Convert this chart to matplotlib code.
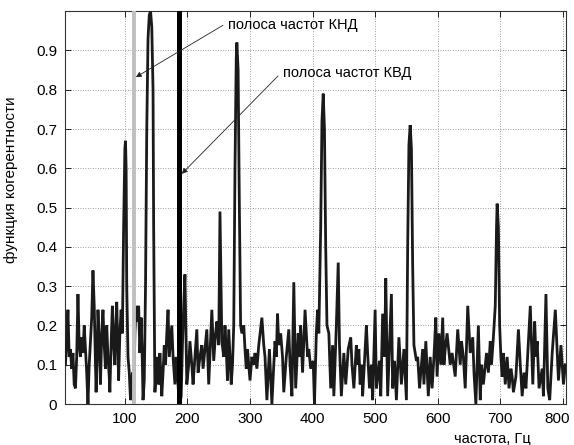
import numpy as np
import matplotlib
matplotlib.use("Agg")
import matplotlib.pyplot as plt
import matplotlib.transforms as mtransforms

plt.rcParams['font.family'] = ['Liberation Sans', 'DejaVu Sans']

# ---- data ----
freq_a = [5, 7, 9, 11, 13, 15, 17, 19, 21, 23, 25, 27, 29, 31, 33, 35, 37, 39, 41, 43,
          45, 47, 49, 51, 53, 54, 56, 57, 59, 61, 63, 65, 67, 69, 71, 73, 75, 76, 78, 80,
          82, 84, 85, 87, 89, 90, 92, 94, 96, 98, 100, 101, 102, 103, 105, 107, 109, 111, 112, 114,
          116, 118, 120, 122, 124, 126, 128, 129, 131, 133, 135, 137, 139, 141, 143, 145, 146, 148, 150, 152,
          154, 156, 159, 161, 163, 165, 167, 169, 171, 173, 175, 177, 180, 182, 184, 186, 188, 190, 192, 194,
          196, 199, 202, 204, 207, 209, 212, 215, 217, 220, 223, 225, 228, 231]
coh_a = [0.10, 0.16, 0.24, 0.12, 0.14, 0.09, 0.13, 0.05, 0.04, 0.12, 0.28, 0.15, 0.12, 0.17, 0.13, 0.20, 0.14, 0.08, 0.00, 0.10,
         0.16, 0.22, 0.34, 0.25, 0.10, 0.03, 0.15, 0.24, 0.16, 0.05, 0.18, 0.24, 0.15, 0.09, 0.20, 0.12, 0.07, 0.03, 0.15, 0.25,
         0.15, 0.10, 0.18, 0.26, 0.12, 0.06, 0.18, 0.24, 0.18, 0.45, 0.65, 0.67, 0.60, 0.30, 0.12, 0.08, 0.01, 0.05, 0.08, 0.00,
         0.18, 0.25, 0.21, 0.25, 0.13, 0.22, 0.10, 0.01, 0.06, 0.30, 0.70, 0.93, 0.99, 1.00, 0.96, 0.80, 0.45, 0.03, 0.08, 0.12,
         0.05, 0.13, 0.02, 0.08, 0.15, 0.10, 0.18, 0.24, 0.12, 0.16, 0.20, 0.12, 0.05, 0.12, 0.08, 0.02, 0.00, 0.02, 0.15, 0.25,
         0.33, 0.05, 0.10, 0.16, 0.10, 0.05, 0.12, 0.19, 0.08, 0.12, 0.15, 0.09, 0.14, 0.19]

freq_b = [234, 239, 242, 245, 247, 250, 252, 255, 258, 260, 262, 264, 266, 268, 270, 272, 274, 276, 278, 279,
          281, 283, 285, 287, 290, 292, 294, 296, 298, 300, 303, 306, 308, 311, 314, 319, 322, 324, 327, 331,
          335, 338, 340, 342, 344, 346, 349, 352, 354, 358, 362, 364, 367, 370, 373, 377, 379, 381, 384, 388,
          392, 394, 397, 401, 403, 406, 408, 410, 413, 415, 417, 419, 421, 423, 426, 429, 432, 434, 438, 441,
          443, 446, 450, 453, 457, 461]
coh_b = [0.05, 0.24, 0.11, 0.18, 0.21, 0.15, 0.49, 0.16, 0.12, 0.20, 0.14, 0.06, 0.19, 0.12, 0.05, 0.10, 0.20, 0.60, 0.88, 0.92,
         0.85, 0.50, 0.20, 0.18, 0.20, 0.14, 0.09, 0.14, 0.10, 0.06, 0.12, 0.10, 0.13, 0.09, 0.15, 0.22, 0.15, 0.12, 0.01, 0.14,
         0.00, 0.10, 0.16, 0.12, 0.23, 0.15, 0.18, 0.12, 0.03, 0.12, 0.19, 0.10, 0.02, 0.31, 0.04, 0.18, 0.12, 0.20, 0.08, 0.24,
         0.12, 0.14, 0.09, 0.11, 0.00, 0.18, 0.24, 0.18, 0.45, 0.72, 0.79, 0.70, 0.40, 0.20, 0.18, 0.04, 0.15, 0.02, 0.20, 0.36,
         0.15, 0.02, 0.13, 0.05, 0.14, 0.17]

freq_c = [463, 466, 470, 471, 474, 476, 479, 480, 486, 488, 491, 494, 496, 500, 502, 505, 507, 509, 512, 515,
          517, 520, 523, 526, 528, 531, 534, 538, 542, 546, 550, 552, 554, 556, 558, 560, 562, 566, 568, 571,
          574, 576, 578, 581, 585, 588, 591, 594, 597, 599, 602, 605, 608, 610, 612, 615, 620, 623, 628, 632,
          636, 638, 641, 644, 648, 652, 656, 658, 661, 665, 668, 670, 673, 678, 681, 684, 686, 689, 692, 694,
          695, 697, 699, 701, 703, 705, 708, 711, 714, 717, 719, 721, 725, 729, 732, 735, 738, 741, 743, 748,
          752, 755, 757, 759, 762, 767, 769, 773, 776, 779, 783, 788, 793, 797, 801, 804]
coh_c = [0.10, 0.04, 0.15, 0.10, 0.14, 0.05, 0.10, 0.02, 0.20, 0.13, 0.04, 0.10, 0.01, 0.24, 0.04, 0.08, 0.11, 0.02, 0.23, 0.12,
         0.32, 0.02, 0.15, 0.28, 0.04, 0.11, 0.01, 0.17, 0.05, 0.14, 0.01, 0.40, 0.66, 0.71, 0.65, 0.35, 0.15, 0.11, 0.12, 0.04,
         0.10, 0.14, 0.05, 0.16, 0.02, 0.12, 0.04, 0.12, 0.22, 0.07, 0.18, 0.10, 0.22, 0.10, 0.14, 0.18, 0.10, 0.13, 0.07, 0.19,
         0.10, 0.16, 0.12, 0.04, 0.25, 0.13, 0.17, 0.08, 0.00, 0.20, 0.01, 0.10, 0.05, 0.13, 0.08, 0.16, 0.10, 0.17, 0.25, 0.45,
         0.51, 0.45, 0.20, 0.12, 0.07, 0.13, 0.05, 0.12, 0.04, 0.09, 0.07, 0.03, 0.07, 0.19, 0.10, 0.02, 0.08, 0.04, 0.10, 0.25,
         0.05, 0.21, 0.12, 0.16, 0.04, 0.09, 0.02, 0.28, 0.04, 0.01, 0.13, 0.24, 0.06, 0.15, 0.05, 0.10]

band_knd = 114   # полоса частот КНД
band_kvd = 187   # полоса частот КВД

xticks = [100, 200, 300, 400, 500, 600, 700, 800]
yticks = [0, 0.1, 0.2, 0.3, 0.4, 0.5, 0.6, 0.7, 0.8, 0.9]
ytick_labels = ['0', '0.1', '0.2', '0.3', '0.4', '0.5', '0.6', '0.7', '0.8', '0.9']

label_knd = 'полоса частот КНД'
label_kvd = 'полоса частот КВД'
xlabel = 'частота, Гц'
ylabel = 'функция когерентности'

freq = np.array(freq_a + freq_b + freq_c, dtype=float)
coh = np.array(coh_a + coh_b + coh_c, dtype=float)

# ---- figure ----
fig = plt.figure(figsize=(5.74, 4.45), dpi=100)
ax = fig.add_axes([0.114, 0.092, 0.872, 0.883])

ax.plot(freq, coh, color='#1a1a1a', lw=2.0, zorder=3, solid_joinstyle='miter')
ax.axvline(band_knd, color='#c0c0c0', lw=2.8, zorder=4)
ax.axvline(band_kvd, color='black', lw=3.6, zorder=4)

ax.set_xlim(5, 805)
ax.set_ylim(0, 1.0)
ax.set_xticks(xticks)
ax.set_yticks(yticks)
ax.set_yticklabels(ytick_labels)

ax.grid(True, color='#808080', linestyle=(0, (1, 2)), lw=0.6)
ax.set_axisbelow(True)
ax.tick_params(direction='in', length=4, width=0.6, top=True, right=True,
               labelsize=11, pad=6, colors='black')
for s in ax.spines.values():
    s.set_linewidth(0.8)
    s.set_color('#333333')

# shift the last x tick label slightly left so it stays inside the figure
fig.canvas.draw()
last = ax.get_xticklabels()[-1]
last.set_transform(last.get_transform() +
                   mtransforms.ScaledTranslation(-6 / 100, 0, fig.dpi_scale_trans))

ax.set_ylabel(ylabel, fontsize=11)
ax.yaxis.set_label_coords(-0.095, 0.57)
ax.set_xlabel(xlabel, fontsize=10.5)
ax.xaxis.set_label_coords(0.852, -0.072)

# annotations
ax.annotate('', xy=(117.6, 0.832), xytext=(256.8, 0.964),
            arrowprops=dict(arrowstyle='-|>', lw=0.6, color='#222222',
                            mutation_scale=8, shrinkA=0, shrinkB=0), zorder=6)
ax.text(265, 0.964, label_knd, fontsize=10.5, va='center', ha='left', zorder=6)
ax.annotate('', xy=(191, 0.586), xytext=(344.8, 0.835),
            arrowprops=dict(arrowstyle='-|>', lw=0.6, color='#222222',
                            mutation_scale=8, shrinkA=0, shrinkB=0), zorder=6)
ax.text(352.8, 0.843, label_kvd, fontsize=10.5, va='center', ha='left', zorder=6)

fig.savefig('out.png', dpi=100)
